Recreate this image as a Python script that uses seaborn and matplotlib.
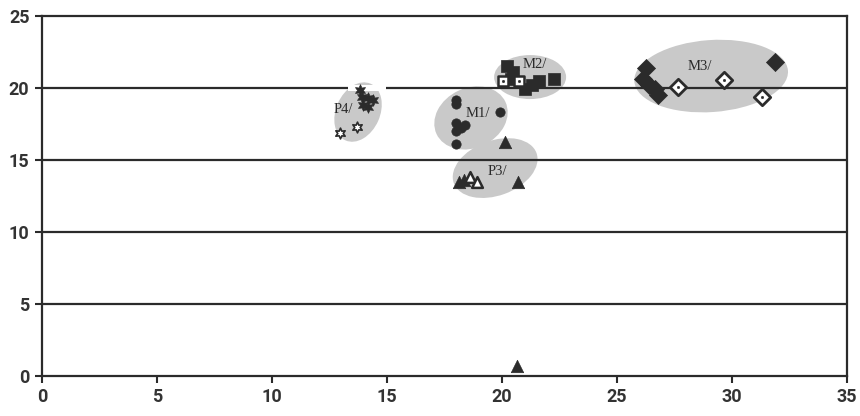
import matplotlib
matplotlib.use("Agg")
import matplotlib.pyplot as plt
import matplotlib.transforms as mtransforms
from matplotlib.patches import Ellipse, Rectangle
import seaborn as sns
import pandas as pd

sns.set_theme(style="white")
plt.rcParams["font.family"] = ["Roboto", "DejaVu Sans"]

# ---- data ---------------------------------------------------------------
p4_filled_x = [13.83, 13.90, 14.17, 14.40, 13.96, 14.17]
p4_filled_y = [19.86, 19.40, 19.30, 19.20, 18.80, 18.70]
p4_open_x = [12.96, 13.70]
p4_open_y = [16.90, 17.30]

m1_x = [18.0, 18.0, 18.0, 18.0, 18.2, 18.4, 18.0, 19.9]
m1_y = [19.2, 18.9, 17.6, 17.0, 17.2, 17.4, 16.1, 18.3]

m2_filled_x = [20.22, 20.48, 20.40, 21.00, 21.30, 21.60, 22.26]
m2_filled_y = [21.53, 21.10, 20.60, 19.95, 20.20, 20.50, 20.60]
m2_open_x = [20.04, 20.74]
m2_open_y = [20.50, 20.50]

m3_filled_x = [26.26, 26.13, 26.40, 26.65, 26.80, 31.87]
m3_filled_y = [21.40, 20.60, 20.20, 19.90, 19.50, 21.80]
m3_open_x = [27.65, 29.65, 31.30]
m3_open_y = [20.07, 20.56, 19.40]

p3_filled_x = [18.13, 18.35, 20.70, 20.13, 20.65]
p3_filled_y = [13.50, 13.60, 13.50, 16.25, 0.70]
p3_open_x = [18.60, 18.90]
p3_open_y = [13.80, 13.50]

group_names = ["P4/", "M1/", "M2/", "M3/", "P3/"]
label_x = [13.10, 18.96, 21.43, 28.60, 19.78]
label_y = [18.50, 18.26, 21.60, 21.46, 14.17]

# shaded group outlines: centre (data), width/height (inches), tilt (deg)
ell_cx = [13.74, 18.65, 21.22, 29.09, 19.70]
ell_cy = [18.33, 17.92, 20.76, 20.83, 14.44]
ell_w = [0.62, 0.76, 0.72, 1.54, 0.88]
ell_h = [0.44, 0.60, 0.44, 0.72, 0.55]
ell_ang = [66, 25, 0, 4, 20]

x_ticks = [0, 5, 10, 15, 20, 25, 30, 35]
y_ticks = [0, 5, 10, 15, 20, 25]

# ---- figure -------------------------------------------------------------
fig = plt.figure(figsize=(8.6, 4.16), dpi=100)
ax = fig.add_axes([0.0488, 0.0962, 0.9362, 0.8653])
ax.set_xlim(0, 35)
ax.set_ylim(0, 25)

ink = "#2b2b2b"

for cx, cy, w, h, a in zip(ell_cx, ell_cy, ell_w, ell_h, ell_ang):
    tr = fig.dpi_scale_trans + mtransforms.ScaledTranslation(cx, cy, ax.transData)
    ax.add_patch(Ellipse((0, 0), w, h, angle=a, transform=tr,
                         facecolor="#c9c9c9", edgecolor="none", zorder=1))

for yv in y_ticks[1:-1]:
    ax.axhline(yv, color=ink, lw=1.6, zorder=2)
# small break in the 20-line beside the P4 group
ax.add_patch(Rectangle((13.3, 19.8), 1.66, 0.4, facecolor="white",
                       edgecolor="none", zorder=2.5))

def pts(x, y):
    return pd.DataFrame({"x": x, "y": y})

kw = dict(ax=ax, legend=False, zorder=4)
sns.scatterplot(data=pts(p4_filled_x, p4_filled_y), x="x", y="y",
                marker=(6, 1, 0), s=70, color=ink, edgecolor=ink, linewidth=0.5, **kw)
sns.scatterplot(data=pts(p4_open_x, p4_open_y), x="x", y="y",
                marker=(6, 1, 0), s=60, facecolor="white", edgecolor=ink, linewidth=1.2, **kw)
sns.scatterplot(data=pts(m1_x, m1_y), x="x", y="y",
                marker="o", s=45, color=ink, edgecolor=ink, linewidth=0.5, **kw)
sns.scatterplot(data=pts(m2_filled_x, m2_filled_y), x="x", y="y",
                marker="s", s=70, color=ink, edgecolor=ink, linewidth=0.5, **kw)
sns.scatterplot(data=pts(m2_open_x, m2_open_y), x="x", y="y",
                marker="s", s=60, facecolor="white", edgecolor=ink, linewidth=1.8, **kw)
sns.scatterplot(data=pts(m2_open_x, m2_open_y), x="x", y="y",
                marker="o", s=4, color=ink, edgecolor=ink, **kw)
sns.scatterplot(data=pts(m3_filled_x, m3_filled_y), x="x", y="y",
                marker="D", s=85, color=ink, edgecolor=ink, linewidth=0.5, **kw)
sns.scatterplot(data=pts(m3_open_x, m3_open_y), x="x", y="y",
                marker="D", s=70, facecolor="white", edgecolor=ink, linewidth=2.0, **kw)
sns.scatterplot(data=pts(m3_open_x, m3_open_y), x="x", y="y",
                marker="o", s=4, color=ink, edgecolor=ink, **kw)
sns.scatterplot(data=pts(p3_filled_x, p3_filled_y), x="x", y="y",
                marker="^", s=80, color=ink, edgecolor=ink, linewidth=0.5, **kw)
sns.scatterplot(data=pts(p3_open_x, p3_open_y), x="x", y="y",
                marker="^", s=60, facecolor="white", edgecolor=ink, linewidth=1.8, **kw)

for name, lx, ly in zip(group_names, label_x, label_y):
    ax.text(lx, ly, name, ha="center", va="center", fontsize=10.5,
            family=["Liberation Serif", "DejaVu Serif"], color=ink, zorder=5)

ax.set_xticks(x_ticks)
ax.set_yticks(y_ticks)
ax.set_xticklabels([str(v) for v in x_ticks])
ax.set_yticklabels([str(v) for v in y_ticks])
ax.tick_params(axis="both", which="both", direction="out", length=5, width=1.5,
               color=ink, labelsize=13, labelcolor="#333333", pad=4,
               bottom=True, left=True)
for lab in ax.get_xticklabels() + ax.get_yticklabels():
    lab.set_fontweight("bold")
ax.set_xlabel("")
ax.set_ylabel("")
for sp in ax.spines.values():
    sp.set_color(ink)
    sp.set_linewidth(1.6)
    sp.set_visible(True)

fig.savefig("out.png", dpi=100, facecolor="white")
